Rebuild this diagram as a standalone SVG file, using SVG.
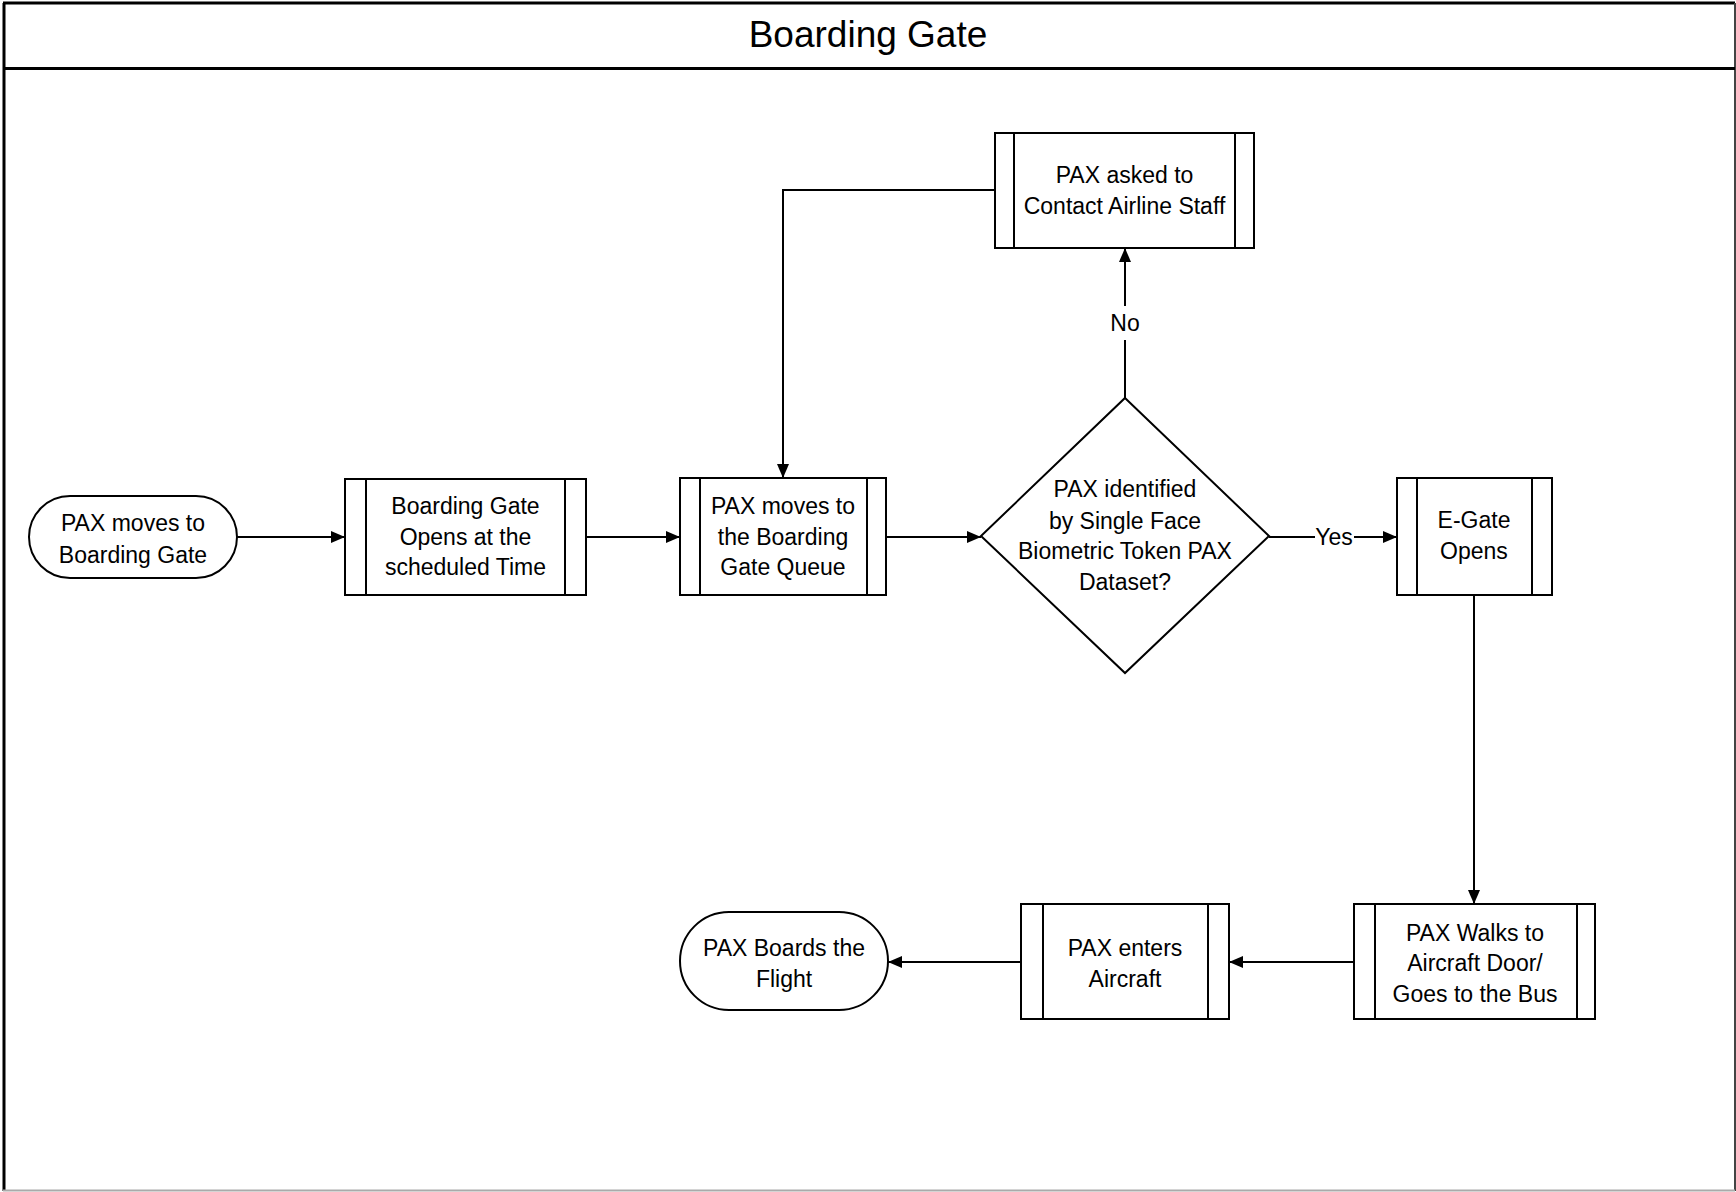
<svg xmlns="http://www.w3.org/2000/svg" width="1736" height="1192" viewBox="0 0 1736 1192">
<style>
.frame{fill:none;stroke:#000;stroke-width:3}
.shape{fill:#fff;stroke:#000;stroke-width:2}
.inner{stroke:#000;stroke-width:2}
.conn{fill:none;stroke:#000;stroke-width:2}
text{font-family:"Liberation Sans",Arial,sans-serif;font-size:23px;fill:#000;text-anchor:middle}
.title{font-size:37px}
</style>
<defs>
<marker id="arr" viewBox="0 0 14 12" refX="14" refY="6" markerWidth="14" markerHeight="12" markerUnits="userSpaceOnUse" orient="auto">
<path d="M0,0 L14,6 L0,12 z" fill="#000"/>
</marker>
</defs>
<rect x="0" y="0" width="1736" height="1192" fill="#fff"/>
<g id="frame">
<line x1="3" y1="3" x2="1735" y2="3" class="frame"/>
<line x1="4" y1="3" x2="4" y2="1191" class="frame"/>
<line x1="1735" y1="3" x2="1735" y2="1191" stroke="#444" stroke-width="2"/>
<line x1="3" y1="1190.5" x2="1735" y2="1190.5" stroke="#aaa" stroke-width="2"/>
<line x1="3" y1="68.5" x2="1735" y2="68.5" class="frame"/>
<text class="title" x="868" y="47">Boarding Gate</text>
</g>
<g id="connectors">
<line x1="237" y1="537" x2="345" y2="537" class="conn" marker-end="url(#arr)"/>
<line x1="586" y1="537" x2="680" y2="537" class="conn" marker-end="url(#arr)"/>
<line x1="886" y1="537" x2="981" y2="537" class="conn" marker-end="url(#arr)"/>
<line x1="1269" y1="537" x2="1397" y2="537" class="conn" marker-end="url(#arr)"/>
<rect x="1315" y="524" width="39" height="26" fill="#fff"/>
<text x="1334" y="545">Yes</text>
<line x1="1125" y1="398" x2="1125" y2="248" class="conn" marker-end="url(#arr)"/>
<rect x="1110" y="306" width="30" height="34" fill="#fff"/>
<text x="1125" y="331">No</text>
<polyline points="995,190 783,190 783,478" class="conn" marker-end="url(#arr)"/>
<line x1="1474" y1="595" x2="1474" y2="904" class="conn" marker-end="url(#arr)"/>
<line x1="1354" y1="962" x2="1229" y2="962" class="conn" marker-end="url(#arr)"/>
<line x1="1021" y1="962" x2="888" y2="962" class="conn" marker-end="url(#arr)"/>
</g>
<g id="start">
<rect x="29" y="496" width="208" height="82" rx="41" ry="41" class="shape"/>
<text x="133" y="531">PAX moves to</text>
<text x="133" y="563">Boarding Gate</text>
</g>
<g id="gate-opens">
<rect x="345" y="479" width="241" height="116" class="shape"/>
<line x1="366" y1="479" x2="366" y2="595" class="inner"/>
<line x1="565" y1="479" x2="565" y2="595" class="inner"/>
<text x="465.5" y="514">Boarding Gate</text>
<text x="465.5" y="545">Opens at the</text>
<text x="465.5" y="575">scheduled Time</text>
</g>
<g id="queue">
<rect x="680" y="478" width="206" height="117" class="shape"/>
<line x1="700" y1="478" x2="700" y2="595" class="inner"/>
<line x1="867" y1="478" x2="867" y2="595" class="inner"/>
<text x="783" y="514">PAX moves to</text>
<text x="783" y="545">the Boarding</text>
<text x="783" y="575">Gate Queue</text>
</g>
<g id="decision">
<polygon points="1125,398 1269,536 1125,673 981,536" class="shape"/>
<text x="1125" y="497">PAX identified</text>
<text x="1125" y="529">by Single Face</text>
<text x="1125" y="559">Biometric Token PAX</text>
<text x="1125" y="590">Dataset?</text>
</g>
<g id="contact-staff">
<rect x="995" y="133" width="259" height="115" class="shape"/>
<line x1="1014" y1="133" x2="1014" y2="248" class="inner"/>
<line x1="1235" y1="133" x2="1235" y2="248" class="inner"/>
<text x="1124.5" y="183">PAX asked to</text>
<text x="1124.5" y="214">Contact Airline Staff</text>
</g>
<g id="egate">
<rect x="1397" y="478" width="155" height="117" class="shape"/>
<line x1="1417" y1="478" x2="1417" y2="595" class="inner"/>
<line x1="1532" y1="478" x2="1532" y2="595" class="inner"/>
<text x="1474" y="528">E-Gate</text>
<text x="1474" y="559">Opens</text>
</g>
<g id="walks">
<rect x="1354" y="904" width="241" height="115" class="shape"/>
<line x1="1375" y1="904" x2="1375" y2="1019" class="inner"/>
<line x1="1577" y1="904" x2="1577" y2="1019" class="inner"/>
<text x="1475" y="941">PAX Walks to</text>
<text x="1475" y="971">Aircraft Door/</text>
<text x="1475" y="1002">Goes to the Bus</text>
</g>
<g id="enters">
<rect x="1021" y="904" width="208" height="115" class="shape"/>
<line x1="1043" y1="904" x2="1043" y2="1019" class="inner"/>
<line x1="1208" y1="904" x2="1208" y2="1019" class="inner"/>
<text x="1125" y="956">PAX enters</text>
<text x="1125" y="987">Aircraft</text>
</g>
<g id="end">
<rect x="680" y="912" width="208" height="98" rx="49" ry="49" class="shape"/>
<text x="784" y="956">PAX Boards the</text>
<text x="784" y="987">Flight</text>
</g>
</svg>
